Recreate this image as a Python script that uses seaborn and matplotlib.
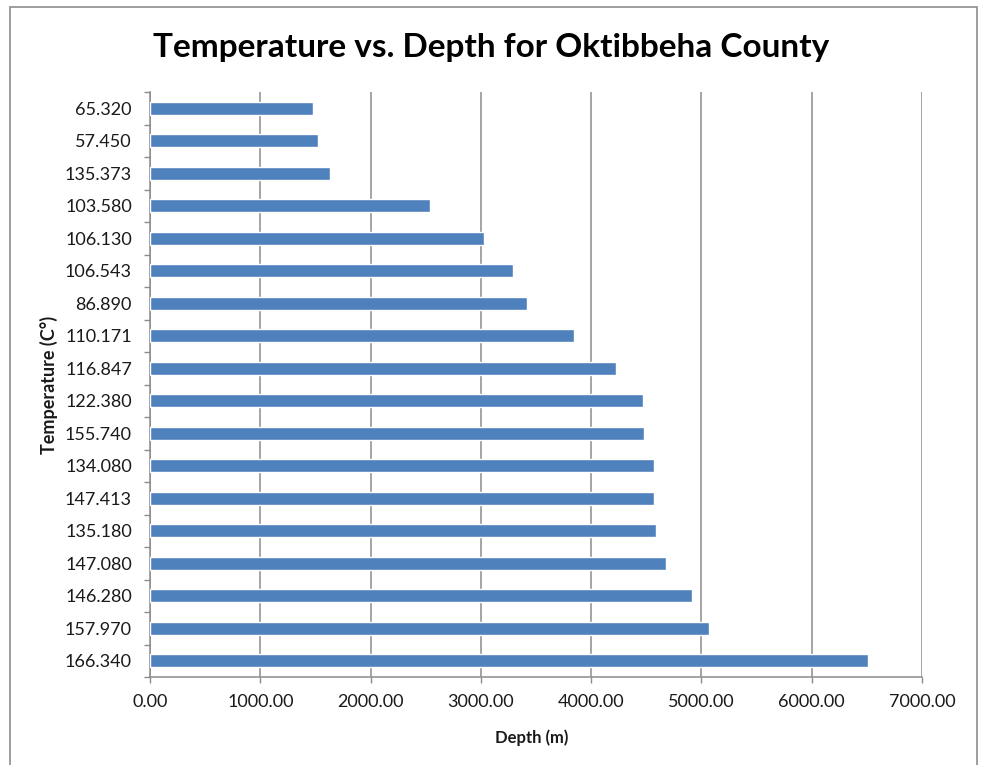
import numpy as np
import pandas as pd
import matplotlib.pyplot as plt
import seaborn as sns
from matplotlib.patches import Rectangle

# Temperature categories (top to bottom) and well depths
temperature_labels = ['65.320', '57.450', '135.373', '103.580', '106.130', '106.543',
                      '86.890', '110.171', '116.847', '122.380', '155.740', '134.080',
                      '147.413', '135.180', '147.080', '146.280', '157.970', '166.340']
depth_values = [1480, 1520, 1630, 2536, 3025, 3288, 3417, 3843, 4228, 4470,
                4482, 4571, 4571, 4590, 4677, 4911, 5072, 6514]
depth_ticks = [0, 1000, 2000, 3000, 4000, 5000, 6000, 7000]

df = pd.DataFrame({'Temperature': temperature_labels, 'Depth': depth_values})

sns.set_style('white')
plt.rcParams['font.family'] = ['Lato', 'DejaVu Sans']

grid_color = '#8c8c8c'
text_color = '#1a1a1a'

fig = plt.figure(figsize=(9.83, 7.65), dpi=100)
ax = fig.add_axes([150 / 983, 1 - 677 / 765, 772 / 983, 585 / 765])

sns.barplot(data=df, x='Depth', y='Temperature', order=temperature_labels, orient='h',
            color='#4F81BD', saturation=1, width=0.39, ax=ax, zorder=3)

# x axis
ax.set_xlim(0, 7000)
ax.set_xticks(depth_ticks)
ax.set_xticklabels([f'{v:.2f}' for v in depth_ticks], fontsize=13, color=text_color)
ax.xaxis.grid(True, color=grid_color, linewidth=1.1)
ax.set_axisbelow(True)
ax.tick_params(axis='x', direction='out', length=4.3, width=1, color=grid_color, pad=8, bottom=True)

# y axis, Excel style ticks between categories
ax.set_ylim(len(temperature_labels) - 0.5, -0.5)
ax.set_yticks(np.arange(-0.5, len(temperature_labels) + 0.5, 1), minor=True)
ax.tick_params(axis='y', which='major', length=0, pad=13, labelsize=13, labelcolor=text_color)
ax.tick_params(axis='y', which='minor', direction='out', length=4.3, width=1, color=grid_color, left=True)

for side in ['top', 'right']:
    ax.spines[side].set_visible(False)
for side in ['left', 'bottom']:
    ax.spines[side].set_color(grid_color)
    ax.spines[side].set_linewidth(1.1)

ax.set_xlabel('')
ax.set_ylabel('')

# titles and axis labels
fig.text(491 / 983, 1 - 47 / 765, 'Temperature vs. Depth for Oktibbeha County',
         ha='center', va='center', fontsize=24, fontweight='bold', color='black')
fig.text(532 / 983, 1 - 738 / 765, 'Depth (m)', ha='center', va='center',
         fontsize=12, fontweight='bold', color=text_color)
fig.text(49 / 983, 1 - 385 / 765, 'Temperature (C°)', ha='center', va='center',
         rotation=90, fontsize=13, fontweight='bold', color=text_color)

# chart border
fig.patches.append(Rectangle((9.5 / 983, -0.05), 967 / 983, 1.05 - 7.5 / 765,
                             transform=fig.transFigure, fill=False,
                             edgecolor='#8c8c8c', linewidth=1.2))

fig.savefig('out.png', dpi=100)
